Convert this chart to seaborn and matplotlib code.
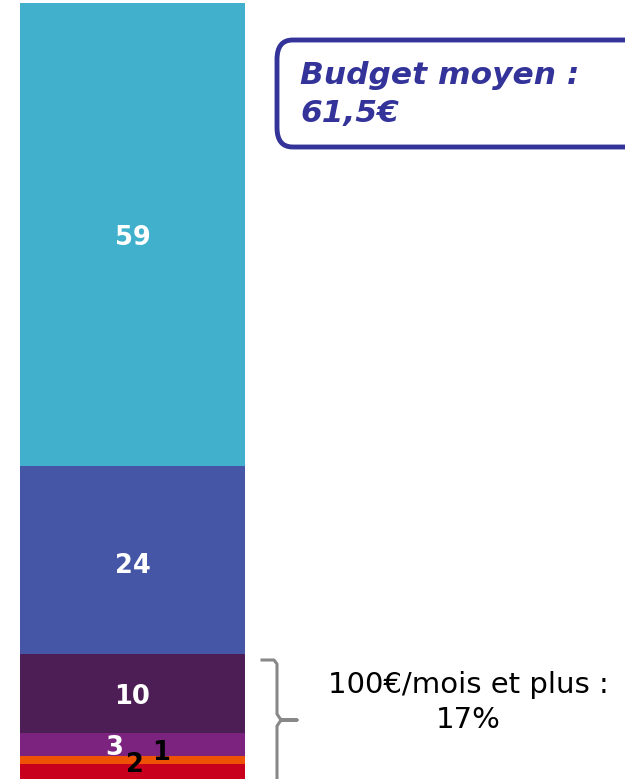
import matplotlib
matplotlib.use("Agg")
import matplotlib.pyplot as plt
import seaborn as sns
import pandas as pd
import numpy as np
from matplotlib.patches import FancyBboxPatch
from matplotlib.lines import Line2D

# tranches de budget, du bas vers le haut
tranches = ["t1", "t2", "t3", "t4", "t5", "t6"]
valeurs = [2, 1, 3, 10, 24, 59]
couleurs = ["#C8001E", "#EE5205", "#7B237F", "#4D1E55", "#4656A6", "#40B0CC"]
couleurs_txt = ["black", "black", "white", "white", "white", "white"]
budget_moyen = "61,5€"
part_100 = "17%"

W, H = 625, 779
fig = plt.figure(figsize=(W / 100, H / 100), dpi=100)
ax = fig.add_axes([0, 0, 1, 1])

cumul = np.cumsum(valeurs)
# on dessine du plus haut au plus bas pour empiler
for i in range(len(valeurs) - 1, -1, -1):
    df = pd.DataFrame({"x": ["Budget"], "y": [cumul[i]]})
    sns.barplot(data=df, x="x", y="y", color=couleurs[i], width=0.8,
                saturation=1, ax=ax, linewidth=0)

# étiquettes
decal = {0: (0.007, 0.9), 1: (0.1, 0.9), 2: (-0.065, -0.4), 3: (0, -0.45),
         4: (0, -0.7), 5: (0, -0.4)}
for i, v in enumerate(valeurs):
    bas = cumul[i] - v
    dx, dy = decal.get(i, (0, 0))
    ax.text(dx, bas + v / 2 + dy, str(v), ha="center", va="center",
            color=couleurs_txt[i], fontsize=18.5, fontweight="bold")

ppu = 225 / 0.8
xmin = -0.4 - 20 / ppu
ax.set_xlim(xmin, xmin + W / ppu)
ax.set_ylim(0.13, 99.38)
ax.axis("off")

# encadré budget moyen
box = FancyBboxPatch((277 / W, 1 - 147 / H), 400 / W, 107 / H,
                     boxstyle="round,pad=0,rounding_size=0.025",
                     transform=fig.transFigure, fill=False,
                     edgecolor="#333399", linewidth=3.5)
fig.patches.append(box)
fig.text(300 / W, 1 - 76 / H, "Budget moyen :", color="#333399", fontsize=22.5,
         fontweight="bold", fontstyle="italic", va="center", ha="left")
fig.text(300 / W, 1 - 113 / H, budget_moyen, color="#333399", fontsize=22.5,
         fontweight="bold", fontstyle="italic", va="center", ha="left")

# accolade
bx = [262, 274, 277, 277, 281, 297, 281, 277, 277]
by = [660, 660, 664, 714, 720, 720, 720, 726, 790]
fig.add_artist(Line2D([x / W for x in bx], [1 - y / H for y in by],
                      transform=fig.transFigure, color="#888888", linewidth=2.2))
fig.text(468 / W, 1 - 685 / H, "100€/mois et plus :", fontsize=21,
         ha="center", va="center", color="black")
fig.text(468 / W, 1 - 720 / H, part_100, fontsize=21,
         ha="center", va="center", color="black")

fig.savefig("out.png", dpi=100)
